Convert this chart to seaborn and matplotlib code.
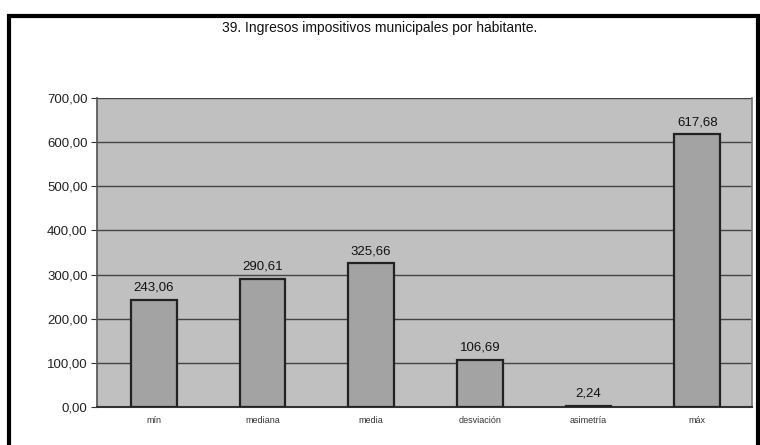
import matplotlib
matplotlib.use("Agg")
import matplotlib.pyplot as plt
import seaborn as sns
import pandas as pd
from matplotlib.patches import Rectangle

# Data
categories = ["mín", "mediana", "media", "desviación", "asimetría", "máx"]
values = [243.06, 290.61, 325.66, 106.69, 2.24, 617.68]
y_ticks = [0, 100, 200, 300, 400, 500, 600, 700]

df = pd.DataFrame({"categoria": categories, "valor": values})


def coma(v):
    return f"{v:.2f}".replace(".", ",")


sns.set_theme(style="white")
plt.rcParams["font.family"] = ["Liberation Sans", "DejaVu Sans"]

fig = plt.figure(figsize=(7.6, 4.45), dpi=100)
ax = fig.add_axes([0.128, 0.085, 0.861, 0.695])
ax.set_facecolor("#c0c0c0")

sns.barplot(data=df, x="categoria", y="valor", color="#a3a3a3", width=0.42,
            edgecolor="#222222", linewidth=1.6, saturation=1, ax=ax, zorder=3)

ax.set_ylim(0, 700)
ax.set_yticks(y_ticks)
ax.set_yticklabels([coma(t) for t in y_ticks], fontsize=9.5, color="#222222")
ax.set_xticks(range(len(categories)))
ax.set_xticklabels(categories, fontsize=6.5, color="#333333")
ax.set_xlim(-0.52, len(categories) - 0.5)
ax.set_xlabel("")
ax.set_ylabel("")

ax.yaxis.grid(True, color="#444444", linewidth=1.0, zorder=1)
ax.set_axisbelow(True)
ax.spines["top"].set_visible(False)
ax.spines["right"].set_color("#777777")
ax.spines["left"].set_color("#555555")
ax.spines["bottom"].set_color("#333333")
ax.spines["bottom"].set_linewidth(1.5)
ax.tick_params(axis="y", length=4, width=0.8, color="#333333", pad=3, left=True)
ax.tick_params(axis="x", length=0, pad=6)

for i, v in enumerate(values):
    ax.text(i, v + 14, coma(v), ha="center", va="bottom", fontsize=9.5,
            color="#111111", zorder=4)

fig.suptitle("39. Ingresos impositivos municipales por habitante.",
             x=0.5, y=0.952, fontsize=10, color="#111111")

# outer chart frame
fig.patches.append(Rectangle((0.012, -0.02), 0.985, 0.985, transform=fig.transFigure,
                             fill=False, edgecolor="black", linewidth=3))

fig.savefig("out.png", dpi=100)
